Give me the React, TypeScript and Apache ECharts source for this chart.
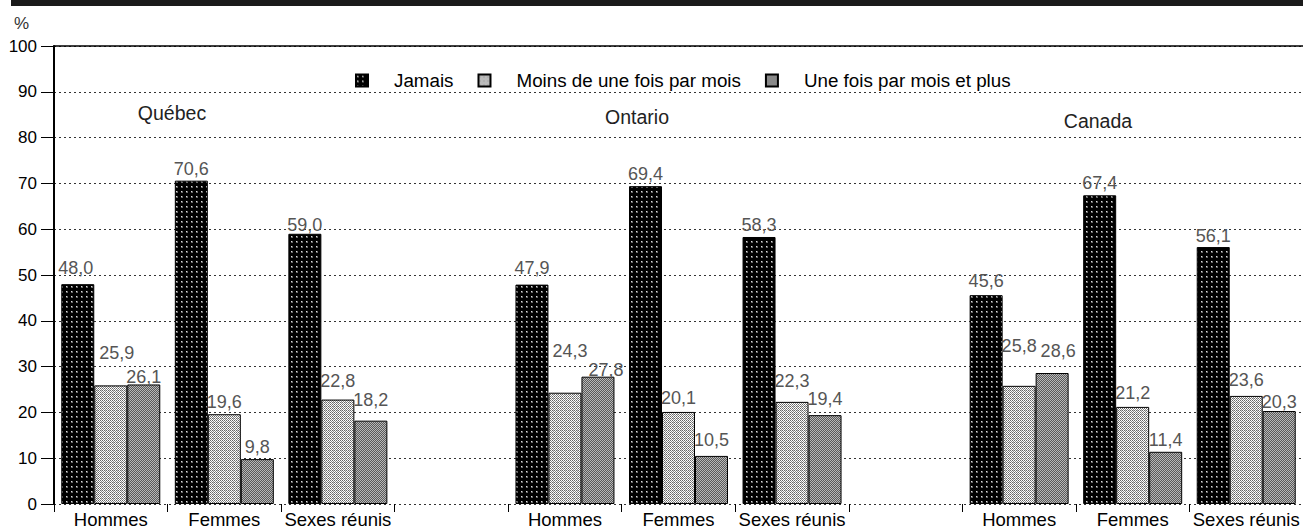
import React, { useEffect, useRef } from 'react';
import * as echarts from 'echarts';

// ---------- data ----------
const categories = ['Hommes', 'Femmes', 'Sexes réunis', '', 'Hommes', 'Femmes', 'Sexes réunis', '', 'Hommes', 'Femmes', 'Sexes réunis'];
const seriesNames = ['Jamais', 'Moins de une fois par mois', 'Une fois par mois et plus'];
const jamais = [48.0, 70.6, 59.0, null, 47.9, 69.4, 58.3, null, 45.6, 67.4, 56.1];
const moins = [25.9, 19.6, 22.8, null, 24.3, 20.1, 22.3, null, 25.8, 21.2, 23.6];
const uneFois = [26.1, 9.8, 18.2, null, 27.8, 10.5, 19.4, null, 28.6, 11.4, 20.3];
const regions = ['Québec', 'Ontario', 'Canada'];
const yMin = 0;
const yMax = 100;
const yStep = 10;

// label nudges (px): [dx, raise]
const jamaisNudge = [[-2, 4], [0, 0], [0, -3], [0, 0], [0, 5], [0, 0], [0, 0], [0, 0], [0, 2], [0, 0], [0, -1]];
const moinsNudge = [[6, 20], [0, 0], [0, 7], [0, 0], [5, 30], [0, 2], [0, 9], [0, 0], [0, 28], [0, 2], [0, 4]];
const uneNudge = [[0, -5], [0, 0], [0, 9], [0, 0], [8, -5], [0, 4], [0, 4], [0, 0], [6, 10], [0, 0], [0, -3]];

const FONT = '"Liberation Sans", Arial, Helvetica, sans-serif';

function makePattern(size: number, bg: string, pick: (x: number, y: number) => string | null) {
  const c = document.createElement('canvas');
  c.width = size;
  c.height = size;
  const ctx = c.getContext('2d')!;
  ctx.fillStyle = bg;
  ctx.fillRect(0, 0, size, size);
  for (let y = 0; y < size; y++) {
    for (let x = 0; x < size; x++) {
      const col = pick(x, y);
      if (col) {
        ctx.fillStyle = col;
        ctx.fillRect(x, y, 1, 1);
      }
    }
  }
  return { image: c.toDataURL(), repeat: 'repeat', imageWidth: size, imageHeight: size };
}

function fmt(v: number) {
  return v.toFixed(1).replace('.', ',');
}

export default function App() {
  const ref = useRef<HTMLDivElement>(null);

  useEffect(() => {
    if (!ref.current) return;
    const chart = echarts.init(ref.current, undefined, { renderer: 'svg' });

    const patJamais = makePattern(5, '#000', (x, y) => (x >= 1 && x <= 2 && y >= 1 && y <= 2 ? (x === 1 && y === 1 ? '#ddd' : '#666') : null));
    const patMoins = makePattern(4, '#ffffff', (x, y) => {
      if ((x + y) % 2 === 0) return (x % 2 === 0) ? '#666' : '#8a8a8a';
      if (x === 1 && y === 2) return '#d0d0d0';
      return null;
    });
    const patUne = makePattern(2, '#5a5a5a', (x, y) => ((x + y) % 2 === 0 ? '#b8b8b8' : null));
    const patterns = [patJamais, patMoins, patUne];
    const values = [jamais, moins, uneFois];
    const nudges = [jamaisNudge, moinsNudge, uneNudge];

    const series = seriesNames.map((name, s) => ({
      name,
      type: 'bar',
      barWidth: 33,
      barGap: '0%',
      itemStyle: { color: patterns[s], borderColor: '#000', borderWidth: 1 },
      label: {
        show: true,
        position: 'top',
        distance: 3,
        color: '#555',
        fontSize: 18,
        fontFamily: FONT,
        formatter: (p: any) => fmt(p.value),
      },
      data: values[s].map((v, i) =>
        v == null
          ? '-'
          : { value: v, label: { offset: [nudges[s][i][0], -nudges[s][i][1]] } }
      ),
    }));

    const option: any = {
      animation: false,
      backgroundColor: '#fff',
      grid: { left: 54, right: 0, top: 46, bottom: 24, containLabel: false },
      legend: {
        data: seriesNames,
        left: 355,
        top: 71,
        padding: 0,
        icon: 'rect',
        itemWidth: 12,
        itemHeight: 12,
        itemGap: 24,
        textStyle: { fontSize: 18.8, color: '#000', fontFamily: FONT, padding: [0, 0, 0, 21] },
      },
      xAxis: [
        {
          type: 'category',
          data: categories,
          position: 'bottom',
          axisLine: { show: false },
          axisTick: { show: true, length: 8, interval: 0, lineStyle: { color: '#000', width: 1 } },
          axisLabel: { interval: 0, color: '#000', fontSize: 18.5, fontFamily: FONT, margin: 6 },
          splitLine: { show: false },
        },
        {
          type: 'category',
          data: categories,
          position: 'top',
          axisLine: { show: true, lineStyle: { color: '#000', width: 1.5 } },
          axisTick: { show: false },
          axisLabel: { show: false },
          splitLine: { show: false },
        },
      ],
      yAxis: {
        type: 'value',
        min: yMin,
        max: yMax,
        interval: yStep,
        axisLine: { show: true, lineStyle: { color: '#000', width: 2 } },
        axisTick: { show: true, length: 13, lineStyle: { color: '#000', width: 1 } },
        axisLabel: { color: '#000', fontSize: 17, fontFamily: FONT, margin: 17, padding: [0, 0, 9, 0] },
        splitLine: { show: true, lineStyle: { type: [2, 3], color: '#333', width: 1 } },
      },
      graphic: [
        { type: 'rect', left: 11, top: 0, shape: { width: 1292, height: 6 }, style: { fill: '#1a1a1a' } },
        { type: 'text', x: 14, y: 15, style: { text: '%', fontSize: 17, fontFamily: FONT, fill: '#333' } },
        { type: 'text', x: 172, y: 113, style: { text: regions[0], align: 'center', verticalAlign: 'middle', fontSize: 19.5, fontFamily: FONT, fill: '#222' } },
        { type: 'text', x: 637, y: 117, style: { text: regions[1], align: 'center', verticalAlign: 'middle', fontSize: 19.5, fontFamily: FONT, fill: '#222' } },
        { type: 'text', x: 1098, y: 121, style: { text: regions[2], align: 'center', verticalAlign: 'middle', fontSize: 19.5, fontFamily: FONT, fill: '#222' } },
      ],
      series,
    };

    chart.setOption(option);
    return () => chart.dispose();
  }, []);

  return (
    <div
      ref={ref}
      style={{ position: 'absolute', left: 0, top: 0, width: 1303, height: 529, background: '#fff' }}
    />
  );
}
